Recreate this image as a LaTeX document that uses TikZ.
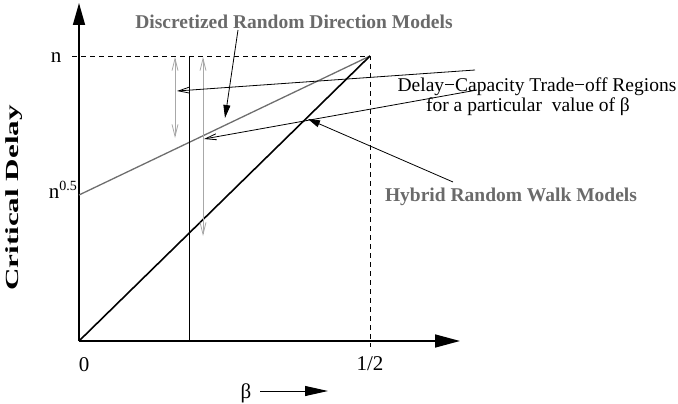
\documentclass[tikz,border=0pt]{standalone}
\usepackage{fontspec}
\setmainfont{Liberation Serif}
\usetikzlibrary{arrows.meta}
\definecolor{txtgray}{HTML}{6A6A6A}
\definecolor{linegray}{HTML}{6E6E6E}
\definecolor{lightgray}{HTML}{A8A8A8}
\tikzset{
  axisline/.style={line width=1.6pt, -{Triangle[length=22pt,width=12pt]}},
  guide/.style={line width=0.8pt, dash pattern=on 5pt off 4pt},
  ticklbl/.style={font=\fontsize{21}{24}\selectfont, inner sep=0pt},
  graytitle/.style={font=\fontsize{19.5}{22}\selectfont\bfseries, text=txtgray, inner sep=0pt},
  plaintext/.style={font=\fontsize{19.5}{22}\selectfont, inner sep=0pt},
  openarrow/.style={line width=0.8pt, -{Straight Barb[length=11pt,width=6pt]}},
  fillarrow/.style={line width=0.8pt, -{Triangle[length=13pt,width=7pt]}},
  rangearrow/.style={line width=0.8pt, draw=lightgray, {Straight Barb[length=12pt,width=6pt]}-{Straight Barb[length=12pt,width=6pt]}}
}
\begin{document}
\begin{tikzpicture}[x=1pt,y=-1pt]
\useasboundingbox (0,0) rectangle (678,404);
% key points
\coordinate (O) at (79,341);
\coordinate (ytop) at (79,3);
\coordinate (xend) at (460,341);
\coordinate (N) at (79,56);
\coordinate (Nl) at (72,56);
\coordinate (P) at (370,56);
\coordinate (Half) at (370,341);
\coordinate (Halft) at (370,347);
\coordinate (Nh) at (79,195);
\coordinate (Vtop) at (189,56);
\coordinate (Vbot) at (189,341);
% guides
\draw[guide] (Nl) -- (P) -- (Halft);
% axes
\draw[axisline] (O) -- (ytop);
\draw[axisline, -{Triangle[length=25pt,width=13pt]}] (O) -- (xend);
% curves
\draw[line width=1.3pt, draw=linegray] (Nh) -- (P);
\draw[line width=1.6pt] (O) -- (P);
\draw[line width=0.9pt] (Vtop) -- (Vbot);
% range arrows
\coordinate (r1t) at (175,57);
\coordinate (r1b) at (175,138);
\coordinate (r2t) at (203,57);
\coordinate (r2b) at (203,236);
\draw[rangearrow] (r1t) -- (r1b);
\draw[rangearrow] (r2t) -- (r2b);
% tick labels
\node[ticklbl, anchor=base] (ln) at (56,63) {n};
\node[ticklbl, anchor=base east] (lnh) at (77,198) {n\raisebox{8pt}{\fontsize{14}{16}\selectfont 0.5}};
\node[ticklbl, anchor=base] (l0) at (84,371) {0};
\node[ticklbl, anchor=base] (lhalf) at (370,370) {1/2};
% axis titles
\node[rotate=90, font=\fontsize{18.5}{22}\selectfont\bfseries, inner sep=0pt] (cd) at (14,198) {\scalebox{1.68}[1]{Critical Delay}};
\node[ticklbl, anchor=base] (beta) at (246,398) {β};
\coordinate (ba1) at (260,391);
\coordinate (ba2) at (328,391);
\draw[line width=1pt, -{Triangle[length=23pt,width=10pt]}] (ba1) -- (ba2);
% annotations
\node[graytitle] (drd) at (294,22) {Discretized Random Direction Models};
\node[graytitle] (hrw) at (511,197) {Hybrid Random Walk Models};
\node[plaintext, anchor=base] (dct1) at (537,92) {Delay−Capacity Trade−off Regions};
\node[plaintext, anchor=base] (dct2) at (528,111) {for a particular\ \ value of β};
\coordinate (a1s) at (238,30);
\coordinate (a1e) at (225,118);
\draw[fillarrow] (a1s) -- (a1e);
\coordinate (a2s) at (475,70);
\coordinate (a2e) at (177,91);
\draw[openarrow] (a2s) -- (a2e);
\coordinate (a3s) at (477,90);
\coordinate (a3e) at (204,139);
\draw[openarrow] (a3s) -- (a3e);
\coordinate (a4s) at (453,182);
\coordinate (a4e) at (308,119);
\draw[line width=0.8pt, -{Triangle[length=12pt,width=7pt]}] (a4s) -- (a4e);
\end{tikzpicture}
\end{document}
